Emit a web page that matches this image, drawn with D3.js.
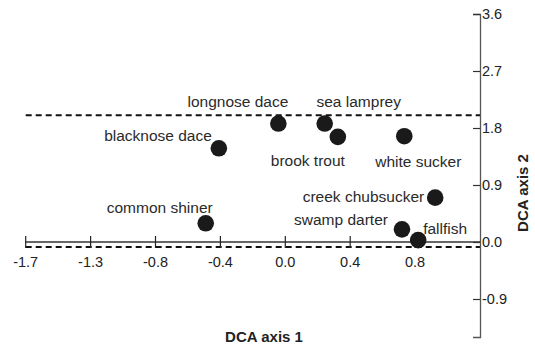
<!DOCTYPE html>
<html>
<head>
<meta charset="utf-8">
<script src="https://cdn.jsdelivr.net/npm/d3@7"></script>
<style>
  html, body { margin: 0; padding: 0; background: #fff; }
  svg { display: block; font-family: "Liberation Sans", Arial, sans-serif; }
</style>
</head>
<body>
<svg id="chart" width="535" height="347"></svg>
<script>
// ---- data ----
const species = ["blacknose dace", "longnose dace", "sea lamprey", "brook trout", "white sucker",
                 "creek chubsucker", "swamp darter", "fallfish", "common shiner"];
const axis1 = [-0.43, -0.045, 0.255, 0.34, 0.77, 0.97, 0.755, 0.86, -0.515];
const axis2 = [1.48, 1.87, 1.87, 1.66, 1.67, 0.70, 0.20, 0.03, 0.295];
const xTicks = [-1.68, -1.26, -0.84, -0.42, 0.0, 0.42, 0.84];
const yTicks = [3.6, 2.7, 1.8, 0.9, 0.0, -0.9];
const refLines = [2.0, -0.08];   // dashed horizontal reference lines (axis 2 values)

// ---- layout (label offsets in px, relative to the point) ----
const labelLayout = {
  "blacknose dace":   {dx: -7,  dy: -13, anchor: "end"},
  "longnose dace":    {dx: 10,  dy: -22, anchor: "end"},
  "sea lamprey":      {dx: 34,  dy: -22, anchor: "middle"},
  "brook trout":      {dx: -30, dy: 24,  anchor: "middle"},
  "white sucker":     {dx: 14,  dy: 25,  anchor: "middle"},
  "creek chubsucker": {dx: -11, dy: -1,  anchor: "end"},
  "swamp darter":     {dx: -14, dy: -10, anchor: "end"},
  "fallfish":         {dx: 5,   dy: -12, anchor: "start"},
  "common shiner":    {dx: 7,   dy: -16, anchor: "end"}
};

const svg = d3.select("#chart");
const x = d3.scaleLinear().domain([-1.68, 1.26]).range([25.7, 480]);
const y = d3.scaleLinear().domain([-1.5, 3.6]).range([337, 14]);

// dashed reference lines
svg.selectAll("line.ref").data(refLines).enter().append("line")
  .attr("x1", x(-1.68)).attr("x2", x(1.26))
  .attr("y1", d => y(d)).attr("y2", d => y(d))
  .attr("stroke", "#111").attr("stroke-width", 2).attr("stroke-dasharray", "6,4");

// x axis (horizontal line at axis2 = 0)
const xAxisG = svg.append("g").attr("transform", `translate(0,${y(0)})`);
xAxisG.append("line").attr("x1", x(-1.68)).attr("x2", x(1.26))
  .attr("stroke", "#666").attr("stroke-width", 2);
xAxisG.selectAll("line.tick").data(xTicks).enter().append("line")
  .attr("x1", d => x(d)).attr("x2", d => x(d)).attr("y1", -6).attr("y2", 6)
  .attr("stroke", "#222").attr("stroke-width", 1.2);
xAxisG.selectAll("text").data(xTicks).enter().append("text")
  .attr("x", d => x(d)).attr("y", 20).attr("dy", "0.35em")
  .attr("text-anchor", "middle").attr("font-size", "14.5px").attr("fill", "#222")
  .text(d => d3.format(".1f")(d).replace("−", "-"));

// y axis at right
const yAxis = d3.axisLeft(y).tickValues(yTicks).tickSize(7).tickFormat(d3.format(".1f"));
const yAxisG = svg.append("g").attr("transform", `translate(${x(1.26)},0)`).call(yAxis);
yAxisG.select(".domain").attr("stroke", "#555").attr("stroke-width", 1.3);
yAxisG.selectAll(".tick line").attr("stroke", "#333").attr("stroke-width", 1.2);
yAxisG.selectAll(".tick text")
  .attr("x", 2).attr("text-anchor", "start")
  .attr("font-size", "14.5px").attr("fill", "#222")
  .attr("font-family", "'Liberation Sans', Arial, sans-serif")
  .text(d => d3.format(".1f")(d).replace("−", "-"));

// points
svg.selectAll("circle.pt").data(species).enter().append("circle")
  .attr("cx", (d, i) => x(axis1[i])).attr("cy", (d, i) => y(axis2[i]))
  .attr("r", 8.3).attr("fill", "#1a1a1a");

// labels
svg.selectAll("text.lbl").data(species).enter().append("text")
  .attr("x", (d, i) => x(axis1[i]) + labelLayout[d].dx)
  .attr("y", (d, i) => y(axis2[i]) + labelLayout[d].dy)
  .attr("dy", "0.35em")
  .attr("text-anchor", d => labelLayout[d].anchor)
  .attr("font-size", "15.5px").attr("fill", "#2a2a2a")
  .text(d => d);

// axis titles
svg.append("text").attr("x", 264).attr("y", 337).attr("dy", "0.35em")
  .attr("text-anchor", "middle").attr("font-weight", "bold").attr("font-size", "15px")
  .attr("fill", "#222").text("DCA axis 1");
svg.append("text").attr("transform", "translate(523,193) rotate(-90)").attr("dy", "0.35em")
  .attr("text-anchor", "middle").attr("font-weight", "bold").attr("font-size", "15px")
  .attr("fill", "#222").text("DCA axis 2");
</script>
</body>
</html>
